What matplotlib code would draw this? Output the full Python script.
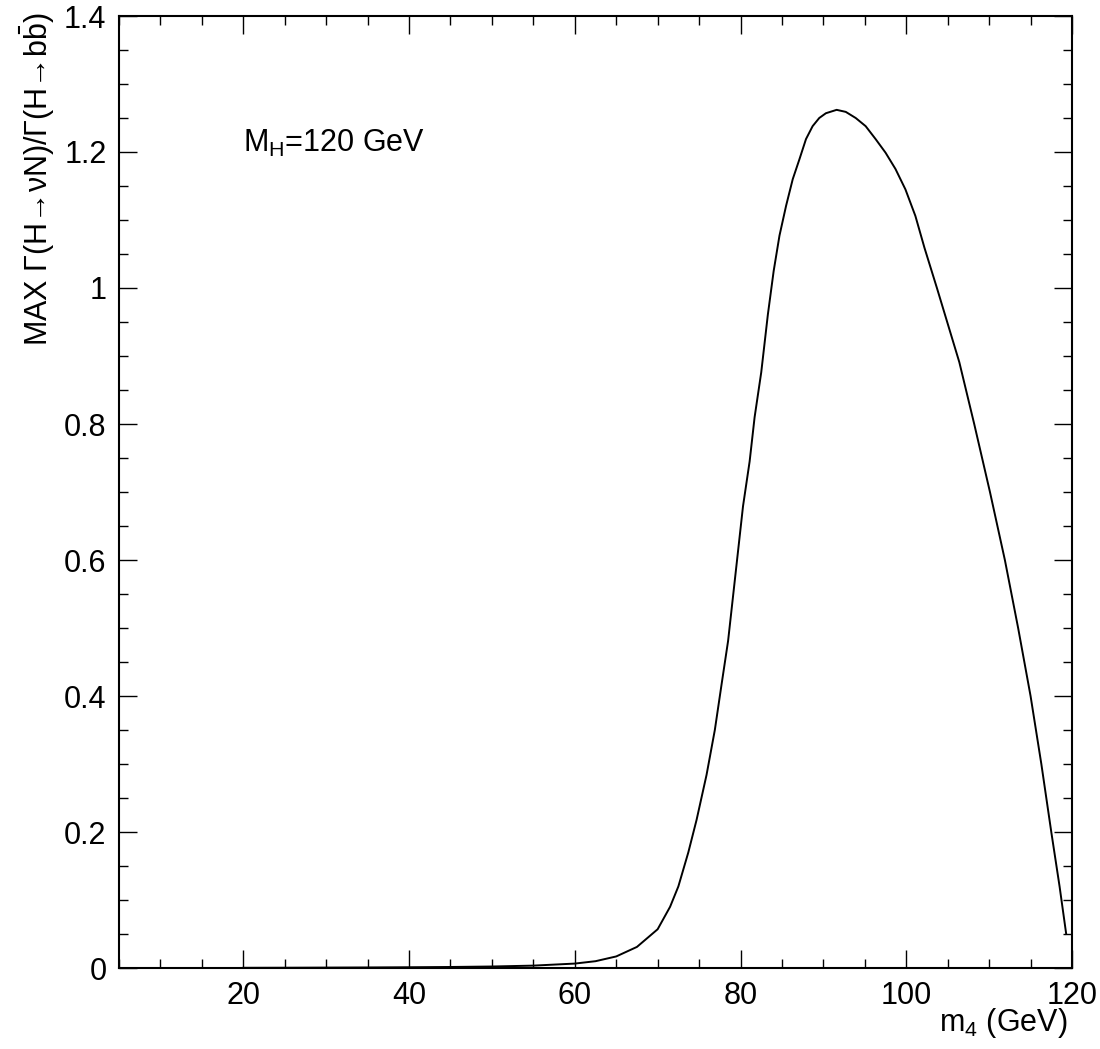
import matplotlib
matplotlib.use("Agg")
import matplotlib.pyplot as plt
from matplotlib.ticker import MultipleLocator, FuncFormatter

plt.rcParams['font.family'] = ['Liberation Sans', 'DejaVu Sans']
plt.rcParams['mathtext.fontset'] = 'custom'
plt.rcParams['mathtext.rm'] = 'Liberation Sans'
plt.rcParams['mathtext.it'] = 'Liberation Sans:italic'
plt.rcParams['mathtext.bf'] = 'Liberation Sans:bold'

# m4 (GeV)
m4 = [20, 25, 30, 35, 40, 45, 50, 55, 60, 62.5, 65, 67.5, 70, 71.5, 72.5,
      73.7, 74.7, 75.9, 76.9, 77.7, 78.5, 79.1, 79.7, 80.3, 81.1, 81.7,
      82.5, 83.3, 84.0, 84.7, 85.5, 86.3, 87.1, 87.9, 88.7, 89.5, 90.3,
      91.6, 92.7, 93.9, 95.1, 96.3, 97.5, 98.7, 99.9, 101.1, 102.2, 103.7,
      106.4, 108.2, 110.1, 111.9, 113.5, 115.0, 116.3, 117.5, 118.5, 119.3]
# MAX Gamma(H->nuN)/Gamma(H->bb)
ratio = [0.0003, 0.0004, 0.0006, 0.0008, 0.0011, 0.0015, 0.0022, 0.0035,
         0.0065, 0.010, 0.017, 0.031, 0.057, 0.09, 0.12,
         0.17, 0.218, 0.284, 0.35, 0.416, 0.481, 0.547, 0.613, 0.679,
         0.745, 0.81, 0.876, 0.961, 1.025, 1.077, 1.121, 1.160, 1.189,
         1.219, 1.238, 1.250, 1.257, 1.262, 1.259, 1.250, 1.238, 1.219,
         1.199, 1.175, 1.145, 1.106, 1.059, 1.000,
         0.891, 0.800, 0.700, 0.600, 0.500, 0.400, 0.300, 0.200, 0.120, 0.050]

W, H = 1100, 1049
fig = plt.figure(figsize=(W / 100, H / 100), dpi=100)
ax = fig.add_axes([119 / W, 1 - 968 / H, (1072 - 119) / W, (968 - 16) / H])

ax.plot(m4, ratio, color='black', lw=1.4)

ax.set_xlim(5, 120)
ax.set_ylim(0, 1.4)
ax.xaxis.set_major_locator(MultipleLocator(20))
ax.xaxis.set_minor_locator(MultipleLocator(5))
ax.yaxis.set_major_locator(MultipleLocator(0.2))
ax.yaxis.set_minor_locator(MultipleLocator(0.05))
ax.yaxis.set_major_formatter(FuncFormatter(lambda v, p: '%g' % round(v, 3)))
ax.xaxis.set_major_formatter(FuncFormatter(lambda v, p: '%g' % v))

ax.tick_params(which='both', direction='in', top=True, right=True,
               labelsize=22, width=1.0)
ax.tick_params(which='major', length=13, pad=9)
ax.tick_params(axis='y', which='major', pad=9)
ax.tick_params(which='minor', length=6.5)
for s in ax.spines.values():
    s.set_linewidth(1.5)

fig.text(1067 / W, 1 - 1031 / H, r'm$_{4}$ (GeV)', ha='right',
         va='baseline', fontsize=22)
fig.text(37 / W, 1 - 12 / H,
         'MAX \u0393(H\u2192\u03bdN)/\u0393(H\u2192b' + r'$\bar{\mathrm{b}}$)',
         rotation=90, ha='center', va='top', fontsize=22)

ax.text(20, 1.2, r'M$_{\mathrm{H}}$=120 GeV', ha='left', va='baseline',
        fontsize=22)

fig.savefig('out.png', dpi=100)
